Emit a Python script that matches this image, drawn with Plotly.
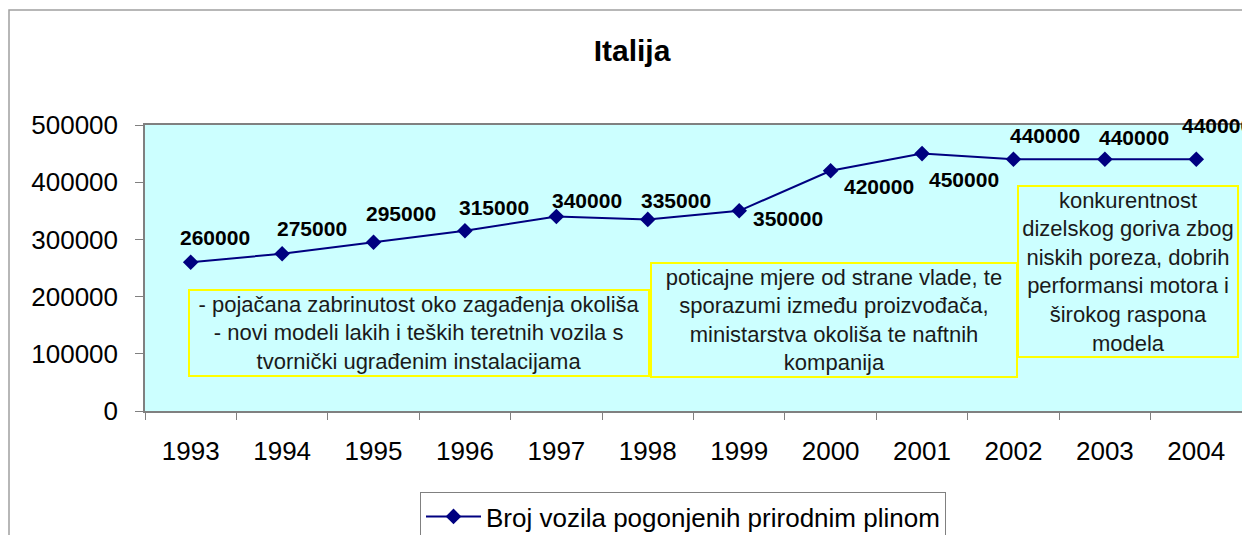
import plotly.graph_objects as go

years = ["1993", "1994", "1995", "1996", "1997", "1998", "1999", "2000", "2001", "2002", "2003", "2004"]
vehicles = [260000, 275000, 295000, 315000, 340000, 335000, 350000, 420000, 450000, 440000, 440000, 440000]
series_name = "Broj vozila pogonjenih prirodnim plinom"
title_text = "Italija"

# label offsets (pixels) relative to each point: (dx, dy up)
label_offsets = [(24, 25), (30, 25), (27, 29), (29, 23), (31, 16), (28, 19),
                 (49, -8), (48, -16), (42, -26), (32, 24), (29, 22), (21, 34)]

notes = [
    "- pojačana zabrinutost oko zagađenja okoliša<br>- novi modeli lakih i teških teretnih vozila s<br>tvornički ugrađenim instalacijama",
    "poticajne mjere od strane vlade, te<br>sporazumi između proizvođača,<br>ministarstva okoliša te naftnih<br>kompanija",
    "konkurentnost<br>dizelskog goriva zbog<br>niskih poreza, dobrih<br>performansi motora i<br>širokog raspona<br>modela",
]
note_x = [2.497, 7.037, 10.253]
note_y = [136364, 159091, 243881]
note_w = [458, 364, 218]
note_h = [84, 112, 169]

FONT = "Liberation Sans, Arial, sans-serif"
OFF = 8  # page body margin
W, H = 1250 - OFF, 535 - OFF
# plot area in page pixels: left 145, right 1242, top 125, bottom 411
L, R, T, B = 145 - OFF, 1250 - 1242, 125 - OFF, 535 - 411
pw = W - L - R
ph = H - T - B


def px_to_paper_x(px):
    return (px - 145) / pw


def py_to_paper_y(py):
    return (411 - py) / ph


fig = go.Figure()
fig.add_trace(go.Scatter(
    x=years, y=vehicles, mode="lines+markers", name=series_name,
    line=dict(color="#000080", width=2),
    marker=dict(symbol="diamond", size=12, color="#000080"),
))

annotations = []
for i, (v, (dx, dy)) in enumerate(zip(vehicles, label_offsets)):
    annotations.append(dict(
        x=i, y=v, xref="x", yref="y", text=str(v), showarrow=False,
        xshift=dx, yshift=dy, font=dict(family=FONT, size=21, color="black", weight="bold"),
        xanchor="center", yanchor="middle",
    ))
for txt, nx, ny, w, h in zip(notes, note_x, note_y, note_w, note_h):
    annotations.append(dict(
        x=nx, y=ny, xref="x", yref="y", text=txt, showarrow=False,
        xanchor="center", yanchor="middle", align="center", valign="middle",
        width=w, height=h, bgcolor="#CCFFFF", bordercolor="#FFFF00", borderwidth=2, borderpad=0,
        font=dict(family=FONT, size=22, color="#1a1a1a"),
    ))

fig.update_layout(
    width=W, height=H,
    margin=dict(l=L, r=R, t=T, b=B, pad=0, autoexpand=False),
    paper_bgcolor="white", plot_bgcolor="#CCFFFF",
    title=dict(text=title_text, x=(632 - OFF) / W, xref="container", xanchor="center",
               y=1 - 42 / H, yref="container", yanchor="middle",
               font=dict(family=FONT, size=30, color="black", weight="bold")),
    font=dict(family=FONT, color="black"),
    showlegend=True,
    legend=dict(x=px_to_paper_x(420), y=py_to_paper_y(492), xanchor="left", yanchor="top",
                bgcolor="white", bordercolor="#808080", borderwidth=1, itemwidth=55,
                font=dict(family=FONT, size=26, color="black")),
    xaxis=dict(type="category", range=[-0.5, 11.5], showgrid=False, zeroline=False,
               automargin=False,
               showline=True, linecolor="#808080", linewidth=1.5, mirror=True,
               ticks="outside", tickson="boundaries", ticklen=7, tickcolor="#808080",
               ticklabelstandoff=16, tickfont=dict(family=FONT, size=26, color="black")),
    yaxis=dict(range=[0, 500000], dtick=100000, tickformat="d", showgrid=False, zeroline=False,
               automargin=False,
               showline=True, linecolor="#808080", linewidth=1.5, mirror=True,
               ticks="outside", ticklen=8, tickcolor="#808080", ticklabelstandoff=12,
               tickfont=dict(family=FONT, size=26, color="black")),
    annotations=annotations,
    shapes=[dict(type="rect", xref="paper", yref="paper",
                 x0=px_to_paper_x(9), x1=px_to_paper_x(1270),
                 y0=py_to_paper_y(10), y1=py_to_paper_y(570),
                 line=dict(color="#a0a0a0", width=1.5), fillcolor="rgba(0,0,0,0)", layer="below")],
)

fig.write_html("out.html")
